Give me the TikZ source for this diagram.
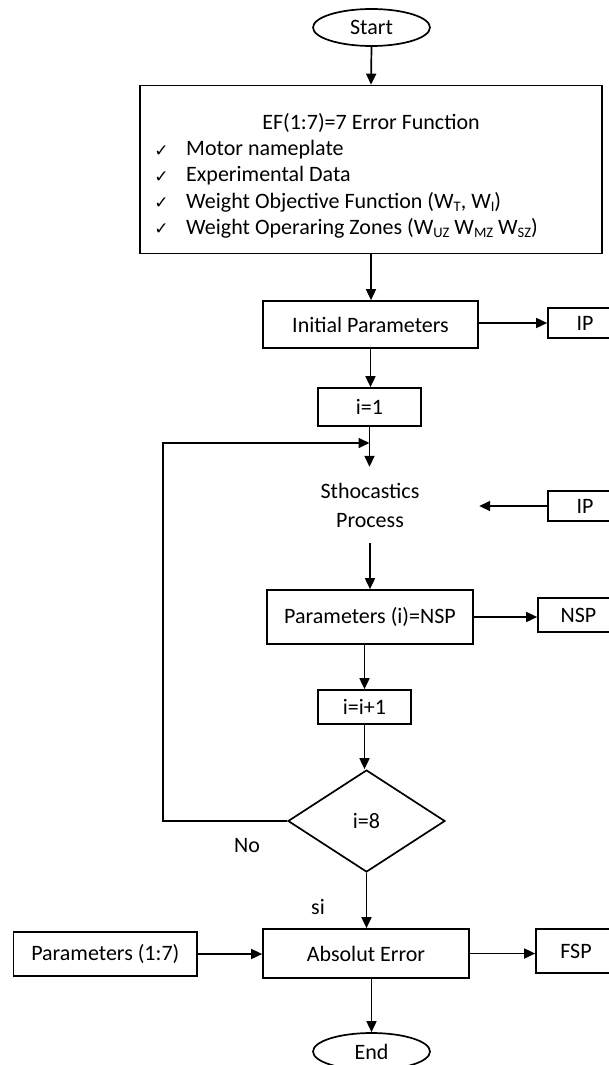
\documentclass[tikz,border=0pt]{standalone}
\usepackage{fontspec}
\setmainfont{Carlito}
\newfontfamily\symfont{DejaVu Sans}
\usetikzlibrary{shapes.geometric,arrows.meta}
\newcommand\sbs[1]{\raisebox{-3.5pt}{\fontsize{14.5}{14.5}\selectfont #1}}
\tikzset{
  base/.style={font=\fontsize{22}{26}\selectfont, inner sep=0pt},
  box/.style={base, draw, line width=1.7pt, rectangle},
  oval/.style={base, draw, line width=1.7pt, ellipse, minimum width=117pt, minimum height=37pt},
  txt/.style={base},
  chk/.style={inner sep=0pt, font=\symfont\fontsize{17}{17}\selectfont},
  arr/.style={line width=1.7pt, -{Triangle[length=11pt,width=10pt]}},
  ln/.style={line width=1.7pt}
}
\begin{document}
\begin{tikzpicture}[x=1pt,y=-1pt]
\useasboundingbox (0,0) rectangle (609,1065);
\clip (0,0) rectangle (609,1065);
% nodes
\node[oval] (start) at (371.5,27.5) {Start};
\node[box, minimum width=462pt, minimum height=168pt] (big) at (371,169.5) {};
\node[txt] (title) at (371,123) {EF(1:7)=7 Error Function};
\node[chk] (c1) at (161.5,151) {✓};
\node[chk] (c2) at (161.5,177) {✓};
\node[chk] (c3) at (161.5,203) {✓};
\node[chk] (c4) at (161.5,229) {✓};
\node[txt, anchor=west] (t1) at (186,150) {Motor nameplate};
\node[txt, anchor=west] (t2) at (186,176) {Experimental Data};
\node[txt, anchor=west] (t3) at (186,202) {Weight Objective Function (W\sbs{T}, W\sbs{I})};
\node[txt, anchor=west] (t4) at (186,228) {Weight Operaring Zones (W\sbs{UZ} W\sbs{MZ} W\sbs{SZ})};
\node[box, minimum width=215pt, minimum height=47pt] (init) at (370.5,324.5) {Initial Parameters};
\node[box, minimum width=74pt, minimum height=30pt] (ip1) at (585,323) {IP};
\node[box, minimum width=103pt, minimum height=38pt] (i1) at (369.5,407) {i=1};
\node[txt, minimum width=218pt, minimum height=76pt, align=center] (sto) at (370,505) {Sthocastics\\[3pt]Process};
\node[box, minimum width=74pt, minimum height=30pt] (ip2) at (585,506) {IP};
\node[box, minimum width=206pt, minimum height=54pt] (par) at (370,617) {Parameters (i)=NSP};
\node[box, minimum width=81pt, minimum height=34pt] (nsp) at (578.5,615) {NSP};
\node[box, minimum width=93pt, minimum height=34pt] (ii) at (364.5,707) {i=i+1};
\node[base, draw, line width=1.7pt, diamond, minimum width=157pt, minimum height=102pt] (dia) at (366.5,821) {i=8};
\node[box, minimum width=206pt, minimum height=49pt] (abs) at (366,953.5) {Absolut Error};
\node[box, minimum width=183.4pt, minimum height=44pt] (p17) at (105.3,954) {Parameters (1:7)};
\node[box, minimum width=80pt, minimum height=44pt] (fsp) at (576,951) {FSP};
\node[oval] (end) at (371.5,1051.5) {End};
\node[txt] (no) at (247,846) {No};
\node[txt] (si) at (318,907) {si};
\coordinate (loopc) at (163,443);
% connectors
\draw[arr] (start.south) -- (big.north);
\draw[arr] (big.south) -- (big.south |- init.north);
\draw[arr] (ip1.west -| init.east) -- (ip1.west);
\draw[arr] (init.south) -- (init.south |- i1.north);
\draw[arr] (i1.south) -- (i1.south |- sto.north);
\draw[arr] (dia.west) -| (loopc) -- (loopc -| i1.south);
\draw[arr] (ip2.west) -- (ip2.west -| sto.east);
\draw[arr] (sto.south) -- (sto.south |- par.north);
\draw[arr] (par.east) -- (par.east -| nsp.west);
\draw[arr] (ii.north |- par.south) -- (ii.north);
\draw[arr] (ii.south) -- (ii.south |- dia.north);
\draw[arr] (dia.south) -- (dia.south |- abs.north);
\draw[arr] (p17.east) -- (p17.east -| abs.west);
\draw[arr] (abs.east) -- (abs.east -| fsp.west);
\draw[arr] (end.north |- abs.south) -- (end.north);
\end{tikzpicture}
\end{document}
